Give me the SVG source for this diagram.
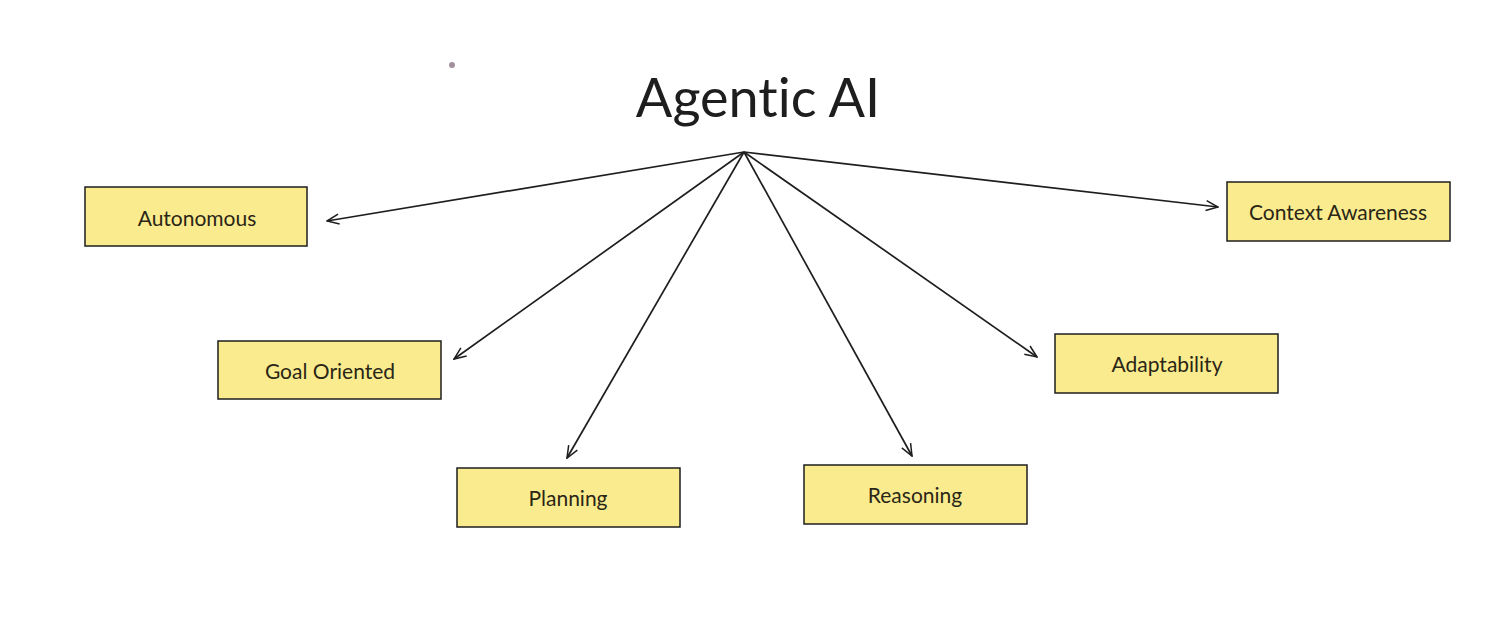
<svg xmlns="http://www.w3.org/2000/svg" width="1490" height="643" viewBox="0 0 1490 643">
<style>
.box{fill:#faec8e;stroke:#1e1e1e;stroke-width:1.5}
.lbl{font-family:Lato,"Noto Sans",sans-serif;font-size:21px;fill:#2a2616;text-anchor:middle;dominant-baseline:central;font-variant-ligatures:none}
.title{font-family:Lato,"Noto Sans",sans-serif;font-size:54px;fill:#1e1e1e;text-anchor:middle;font-variant-ligatures:none}
.edge{stroke:#1e1e1e;stroke-width:1.7;fill:none;marker-end:url(#ah)}
</style>
<defs>
<marker id="ah" viewBox="0 0 14 12" refX="13" refY="6" markerWidth="14" markerHeight="12" markerUnits="userSpaceOnUse" orient="auto">
<path d="M1,1 L13,6 L1,11" fill="none" stroke="#1e1e1e" stroke-width="1.5"/>
</marker>
</defs>
<rect width="1490" height="643" fill="#ffffff"/>
<circle cx="452" cy="65" r="3" fill="#a3909e"/>
<text class="title" x="758" y="117">Agentic AI</text>
<g id="connectors">
<path class="edge" d="M744,152 L327,221"/>
<path class="edge" d="M744,152 L1218,207"/>
<path class="edge" d="M744,152 L454,359"/>
<path class="edge" d="M744,152 L1037,357"/>
<path class="edge" d="M744,152 L567,458"/>
<path class="edge" d="M744,152 L912,456"/>
</g>
<g id="autonomous"><rect class="box" x="85" y="187" width="222" height="59"/><text class="lbl" x="197" y="217">Autonomous</text></g>
<g id="context-awareness"><rect class="box" x="1227" y="182" width="223" height="59"/><text class="lbl" x="1338" y="211">Context Awareness</text></g>
<g id="goal-oriented"><rect class="box" x="218" y="341" width="223" height="58"/><text class="lbl" x="330" y="370">Goal Oriented</text></g>
<g id="adaptability"><rect class="box" x="1055" y="334" width="223" height="59"/><text class="lbl" x="1167" y="363">Adaptability</text></g>
<g id="planning"><rect class="box" x="457" y="468" width="223" height="59"/><text class="lbl" x="568" y="497">Planning</text></g>
<g id="reasoning"><rect class="box" x="804" y="465" width="223" height="59"/><text class="lbl" x="915" y="494">Reasoning</text></g>
</svg>
